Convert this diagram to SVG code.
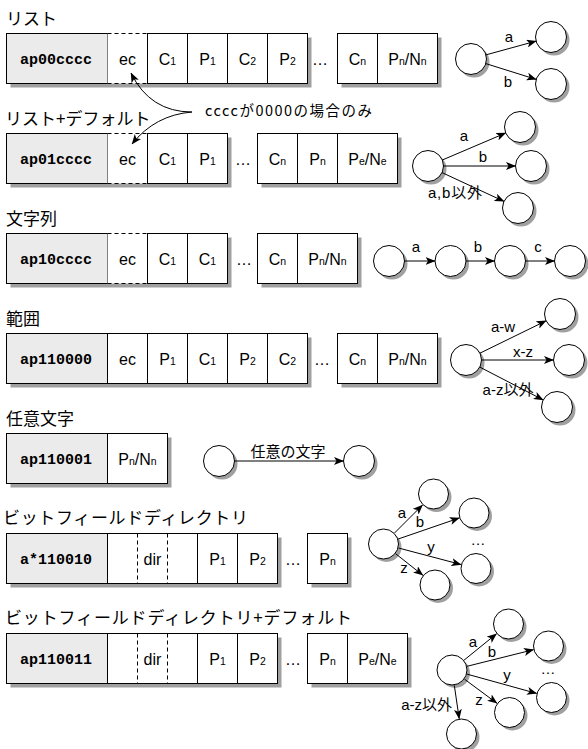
<svg xmlns="http://www.w3.org/2000/svg" width="588" height="749" viewBox="0 0 588 749">
  <style>
    .t { font-family: "Noto Sans CJK JP", sans-serif; font-size: 17px; fill: #000; }
    .m { font-family: "Liberation Mono", "Courier New", monospace; font-weight: bold; font-size: 15px; text-anchor: middle; }
    .c { font-family: "Liberation Sans", Arial, sans-serif; font-size: 16px; text-anchor: middle; }
    .s { font-size: 10.5px; }
    .l { font-family: "Liberation Sans", "Noto Sans CJK JP", sans-serif; font-size: 15px; }
    .mid { text-anchor: middle; }
    .box { fill: #fff; stroke: #000; stroke-width: 1; }
    .hd { fill: #ebebeb; stroke: #000; stroke-width: 1; }
    .sh { fill: #a0a0a0; }
    .wt { fill: #fff; }
    .dash { stroke: #000; stroke-width: 1; stroke-dasharray: 4 3; fill: none; }
    .nd { fill: #fff; stroke: #000; stroke-width: 1; }
    .edge { stroke: #000; stroke-width: 1; fill: none; marker-end: url(#ah); }
  </style>
  <defs>
    <marker id="ah" viewBox="0 0 10 8" refX="9.5" refY="4" markerWidth="10" markerHeight="8" markerUnits="userSpaceOnUse" orient="auto">
      <path d="M0,0 L10,4 L0,8 L2.5,4 Z" fill="#000"/>
    </marker>
  </defs>

  <!-- section titles -->
  <g id="titles">
    <text class="t" x="6" y="25">リスト</text>
    <text class="t" x="5" y="125">リスト+デフォルト</text>
    <text class="t" x="6" y="225">文字列</text>
    <text class="t" x="6" y="325">範囲</text>
    <text class="t" x="6" y="425">任意文字</text>
    <text class="t" x="3" y="524" textLength="245" lengthAdjust="spacing">ビットフィールドディレクトリ</text>
    <text class="t" x="5" y="624" textLength="347" lengthAdjust="spacing">ビットフィールドディレクトリ+デフォルト</text>
  </g>

  <!-- row 1: list -->
  <g id="row-list">
    <rect class="sh" x="10.5" y="37.5" width="301" height="50"/>
    <rect class="sh" x="341.5" y="37.5" width="100" height="50"/>
    <rect class="hd" x="6.5" y="33.5" width="101" height="50"/>
    <rect class="wt" x="107.5" y="33.5" width="40" height="50"/>
    <path class="dash" d="M107.5,33.5 H147.5 M107.5,83.5 H147.5"/>
    <rect class="box" x="147.5" y="33.5" width="40" height="50"/>
    <rect class="box" x="187.5" y="33.5" width="40" height="50"/>
    <rect class="box" x="227.5" y="33.5" width="40" height="50"/>
    <rect class="box" x="267.5" y="33.5" width="40" height="50"/>
    <rect class="box" x="337.5" y="33.5" width="40" height="50"/>
    <rect class="box" x="377.5" y="33.5" width="60" height="50"/>
    <text class="m" x="56" y="63.5">ap00cccc</text>
    <text class="c" x="127.5" y="65">ec</text>
    <text class="c" x="167.5" y="65">C<tspan class="s">1</tspan></text>
    <text class="c" x="207.5" y="65">P<tspan class="s">1</tspan></text>
    <text class="c" x="247.5" y="65">C<tspan class="s">2</tspan></text>
    <text class="c" x="287.5" y="65">P<tspan class="s">2</tspan></text>
    <text class="c" x="320" y="65">…</text>
    <text class="c" x="357.5" y="65">C<tspan class="s">n</tspan></text>
    <text class="c" x="407.5" y="65">P<tspan class="s">n</tspan>/N<tspan class="s">n</tspan></text>
  </g>

  <!-- row 2: list + default -->
  <g id="row-list-default">
    <rect class="sh" x="10.5" y="137.5" width="221" height="50"/>
    <rect class="sh" x="261.5" y="137.5" width="140" height="50"/>
    <rect class="hd" x="6.5" y="133.5" width="101" height="50"/>
    <rect class="wt" x="107.5" y="133.5" width="40" height="50"/>
    <path class="dash" d="M107.5,133.5 H147.5 M107.5,183.5 H147.5"/>
    <rect class="box" x="147.5" y="133.5" width="40" height="50"/>
    <rect class="box" x="187.5" y="133.5" width="40" height="50"/>
    <rect class="box" x="257.5" y="133.5" width="40" height="50"/>
    <rect class="box" x="297.5" y="133.5" width="40" height="50"/>
    <rect class="box" x="337.5" y="133.5" width="60" height="50"/>
    <text class="m" x="56" y="163.5">ap01cccc</text>
    <text class="c" x="127.5" y="165">ec</text>
    <text class="c" x="167.5" y="165">C<tspan class="s">1</tspan></text>
    <text class="c" x="207.5" y="165">P<tspan class="s">1</tspan></text>
    <text class="c" x="243" y="165">…</text>
    <text class="c" x="277.5" y="165">C<tspan class="s">n</tspan></text>
    <text class="c" x="317.5" y="165">P<tspan class="s">n</tspan></text>
    <text class="c" x="367.5" y="165">P<tspan class="s">e</tspan>/N<tspan class="s">e</tspan></text>
  </g>

  <!-- row 3: string -->
  <g id="row-string">
    <rect class="sh" x="10.5" y="237.5" width="221" height="50"/>
    <rect class="sh" x="261.5" y="237.5" width="100" height="50"/>
    <rect class="hd" x="6.5" y="233.5" width="101" height="50"/>
    <rect class="wt" x="107.5" y="233.5" width="40" height="50"/>
    <path class="dash" d="M107.5,233.5 H147.5 M107.5,283.5 H147.5"/>
    <rect class="box" x="147.5" y="233.5" width="40" height="50"/>
    <rect class="box" x="187.5" y="233.5" width="40" height="50"/>
    <rect class="box" x="257.5" y="233.5" width="40" height="50"/>
    <rect class="box" x="297.5" y="233.5" width="60" height="50"/>
    <text class="m" x="56" y="263.5">ap10cccc</text>
    <text class="c" x="127.5" y="265">ec</text>
    <text class="c" x="167.5" y="265">C<tspan class="s">1</tspan></text>
    <text class="c" x="207.5" y="265">C<tspan class="s">1</tspan></text>
    <text class="c" x="244" y="265">…</text>
    <text class="c" x="277.5" y="265">C<tspan class="s">n</tspan></text>
    <text class="c" x="327.5" y="265">P<tspan class="s">n</tspan>/N<tspan class="s">n</tspan></text>
  </g>

  <!-- row 4: range -->
  <g id="row-range">
    <rect class="sh" x="10.5" y="337.5" width="301" height="50"/>
    <rect class="sh" x="341.5" y="337.5" width="100" height="50"/>
    <rect class="hd" x="6.5" y="333.5" width="101" height="50"/>
    <rect class="box" x="107.5" y="333.5" width="40" height="50"/>
    <rect class="box" x="147.5" y="333.5" width="40" height="50"/>
    <rect class="box" x="187.5" y="333.5" width="40" height="50"/>
    <rect class="box" x="227.5" y="333.5" width="40" height="50"/>
    <rect class="box" x="267.5" y="333.5" width="40" height="50"/>
    <rect class="box" x="337.5" y="333.5" width="40" height="50"/>
    <rect class="box" x="377.5" y="333.5" width="60" height="50"/>
    <text class="m" x="56" y="363.5">ap110000</text>
    <text class="c" x="127.5" y="365">ec</text>
    <text class="c" x="167.5" y="365">P<tspan class="s">1</tspan></text>
    <text class="c" x="207.5" y="365">C<tspan class="s">1</tspan></text>
    <text class="c" x="247.5" y="365">P<tspan class="s">2</tspan></text>
    <text class="c" x="287.5" y="365">C<tspan class="s">2</tspan></text>
    <text class="c" x="322" y="365">…</text>
    <text class="c" x="357.5" y="365">C<tspan class="s">n</tspan></text>
    <text class="c" x="407.5" y="365">P<tspan class="s">n</tspan>/N<tspan class="s">n</tspan></text>
  </g>

  <!-- row 5: any character -->
  <g id="row-any">
    <rect class="sh" x="10.5" y="437.5" width="161" height="50"/>
    <rect class="hd" x="6.5" y="433.5" width="101" height="50"/>
    <rect class="box" x="107.5" y="433.5" width="60" height="50"/>
    <text class="m" x="56" y="463.5">ap110001</text>
    <text class="c" x="137.5" y="465">P<tspan class="s">n</tspan>/N<tspan class="s">n</tspan></text>
  </g>

  <!-- row 6: bit-field directory -->
  <g id="row-bitfield">
    <rect class="sh" x="10.5" y="537.5" width="271" height="50"/>
    <rect class="sh" x="311.5" y="537.5" width="40" height="50"/>
    <rect class="hd" x="6.5" y="533.5" width="101" height="50"/>
    <rect class="box" x="107.5" y="533.5" width="90" height="50"/>
    <path class="dash" d="M137.5,533.5 V583.5 M167.5,533.5 V583.5"/>
    <rect class="box" x="197.5" y="533.5" width="40" height="50"/>
    <rect class="box" x="237.5" y="533.5" width="40" height="50"/>
    <rect class="box" x="307.5" y="533.5" width="40" height="50"/>
    <text class="m" x="56" y="563.5">a*110010</text>
    <text class="c" x="152.5" y="565">dir</text>
    <text class="c" x="217.5" y="565">P<tspan class="s">1</tspan></text>
    <text class="c" x="257.5" y="565">P<tspan class="s">2</tspan></text>
    <text class="c" x="293" y="565">…</text>
    <text class="c" x="327.5" y="565">P<tspan class="s">n</tspan></text>
  </g>

  <!-- row 7: bit-field directory + default -->
  <g id="row-bitfield-default">
    <rect class="sh" x="10.5" y="637.5" width="271" height="50"/>
    <rect class="sh" x="311.5" y="637.5" width="100" height="50"/>
    <rect class="hd" x="6.5" y="633.5" width="101" height="50"/>
    <rect class="box" x="107.5" y="633.5" width="90" height="50"/>
    <path class="dash" d="M137.5,633.5 V683.5 M167.5,633.5 V683.5"/>
    <rect class="box" x="197.5" y="633.5" width="40" height="50"/>
    <rect class="box" x="237.5" y="633.5" width="40" height="50"/>
    <rect class="box" x="307.5" y="633.5" width="40" height="50"/>
    <rect class="box" x="347.5" y="633.5" width="60" height="50"/>
    <text class="m" x="56" y="663.5">ap110011</text>
    <text class="c" x="152.5" y="665">dir</text>
    <text class="c" x="217.5" y="665">P<tspan class="s">1</tspan></text>
    <text class="c" x="257.5" y="665">P<tspan class="s">2</tspan></text>
    <text class="c" x="293" y="665">…</text>
    <text class="c" x="327.5" y="665">P<tspan class="s">n</tspan></text>
    <text class="c" x="377.5" y="665">P<tspan class="s">e</tspan>/N<tspan class="s">e</tspan></text>
  </g>

  <!-- note on the escape-character cells -->
  <g id="note-ec">
    <text class="t" x="205" y="116" style="font-size:14.5px" textLength="167" lengthAdjust="spacing">ccccが0000の場合のみ</text>
  </g>

  <!-- state graph nodes -->
  <g id="g1-s0"><circle class="sh" cx="474" cy="62" r="15.5"/><circle class="nd" cx="471" cy="59" r="15.5"/></g>
  <g id="g1-sa"><circle class="sh" cx="554" cy="40" r="15.5"/><circle class="nd" cx="551" cy="37" r="15.5"/></g>
  <g id="g1-sb"><circle class="sh" cx="554" cy="87" r="15.5"/><circle class="nd" cx="551" cy="84" r="15.5"/></g>

  <g id="g2-s0"><circle class="sh" cx="431" cy="169" r="15.5"/><circle class="nd" cx="428" cy="166" r="15.5"/></g>
  <g id="g2-sa"><circle class="sh" cx="523" cy="130" r="15.5"/><circle class="nd" cx="520" cy="127" r="15.5"/></g>
  <g id="g2-sb"><circle class="sh" cx="534" cy="169" r="15.5"/><circle class="nd" cx="531" cy="166" r="15.5"/></g>
  <g id="g2-sd"><circle class="sh" cx="521" cy="211" r="15.5"/><circle class="nd" cx="518" cy="208" r="15.5"/></g>

  <g id="g3-s0"><circle class="sh" cx="392" cy="264" r="15.5"/><circle class="nd" cx="389" cy="261" r="15.5"/></g>
  <g id="g3-s1"><circle class="sh" cx="453.5" cy="264" r="15.5"/><circle class="nd" cx="450.5" cy="261" r="15.5"/></g>
  <g id="g3-s2"><circle class="sh" cx="513" cy="264" r="15.5"/><circle class="nd" cx="510" cy="261" r="15.5"/></g>
  <g id="g3-s3"><circle class="sh" cx="573" cy="264" r="15.5"/><circle class="nd" cx="570" cy="261" r="15.5"/></g>

  <g id="g4-s0"><circle class="sh" cx="469" cy="363" r="15.5"/><circle class="nd" cx="466" cy="360" r="15.5"/></g>
  <g id="g4-sa"><circle class="sh" cx="563" cy="317" r="15.5"/><circle class="nd" cx="560" cy="314" r="15.5"/></g>
  <g id="g4-sb"><circle class="sh" cx="572" cy="363" r="15.5"/><circle class="nd" cx="569" cy="360" r="15.5"/></g>
  <g id="g4-sd"><circle class="sh" cx="560" cy="410" r="15.5"/><circle class="nd" cx="557" cy="407" r="15.5"/></g>

  <g id="g5-s0"><circle class="sh" cx="222" cy="464" r="15.5"/><circle class="nd" cx="219" cy="461" r="15.5"/></g>
  <g id="g5-s1"><circle class="sh" cx="362" cy="464" r="15.5"/><circle class="nd" cx="359" cy="461" r="15.5"/></g>

  <g id="g6-s0"><circle class="sh" cx="386.5" cy="547" r="15"/><circle class="nd" cx="383.5" cy="544" r="15"/></g>
  <g id="g6-sa"><circle class="sh" cx="436.5" cy="497" r="15"/><circle class="nd" cx="433.5" cy="494" r="15"/></g>
  <g id="g6-sb"><circle class="sh" cx="477" cy="516" r="15"/><circle class="nd" cx="474" cy="513" r="15"/></g>
  <g id="g6-sy"><circle class="sh" cx="479" cy="571.5" r="15"/><circle class="nd" cx="476" cy="568.5" r="15"/></g>
  <g id="g6-sz"><circle class="sh" cx="438" cy="588" r="15"/><circle class="nd" cx="435" cy="585" r="15"/></g>

  <g id="g7-s0"><circle class="sh" cx="455" cy="673" r="15"/><circle class="nd" cx="452" cy="670" r="15"/></g>
  <g id="g7-sa"><circle class="sh" cx="511.5" cy="627" r="15"/><circle class="nd" cx="508.5" cy="624" r="15"/></g>
  <g id="g7-sb"><circle class="sh" cx="551.5" cy="649" r="15"/><circle class="nd" cx="548.5" cy="646" r="15"/></g>
  <g id="g7-sy"><circle class="sh" cx="554.5" cy="700.5" r="15"/><circle class="nd" cx="551.5" cy="697.5" r="15"/></g>
  <g id="g7-sz"><circle class="sh" cx="512.5" cy="715.5" r="15"/><circle class="nd" cx="509.5" cy="712.5" r="15"/></g>
  <g id="g7-sd"><circle class="sh" cx="464.5" cy="737" r="15"/><circle class="nd" cx="461.5" cy="734" r="15"/></g>

  <!-- connectors -->
  <g id="connectors">
    <path class="edge" d="M192,112 Q150,112 131,73"/>
    <path class="edge" d="M192,112 Q155,115 132,144"/>

    <path class="edge" d="M485.9,54.9 L536.1,41.1"/>
    <path class="edge" d="M485.8,63.6 L536.2,79.4"/>

    <path class="edge" d="M442.3,160 L505.7,133"/>
    <path class="edge" d="M443.5,166 L515.5,166"/>
    <path class="edge" d="M442,172.6 L504,201.4"/>

    <path class="edge" d="M404.5,261 L435,261"/>
    <path class="edge" d="M466,261 L494.5,261"/>
    <path class="edge" d="M525.5,261 L554.5,261"/>

    <path class="edge" d="M479.9,353.2 L546.1,320.8"/>
    <path class="edge" d="M481.5,360 L553.5,360"/>
    <path class="edge" d="M479.8,367.1 L543.2,399.9"/>

    <path class="edge" d="M234.5,461 L343.5,461"/>

    <path class="edge" d="M394.5,533 L422.5,505"/>
    <path class="edge" d="M398.2,539 L459.3,518"/>
    <path class="edge" d="M398.5,548 L461,564.5"/>
    <path class="edge" d="M395.6,553.7 L422.9,575.3"/>

    <path class="edge" d="M464,660.2 L496.5,633.8"/>
    <path class="edge" d="M467,666.3 L533.5,649.7"/>
    <path class="edge" d="M466.9,674.1 L536.6,693.4"/>
    <path class="edge" d="M464.5,679.2 L497,703.3"/>
    <path class="edge" d="M454.3,685.3 L459.2,718.7"/>
  </g>

  <!-- edge labels -->
  <g id="edge-labels">
    <text class="l mid" x="509" y="42">a</text>
    <text class="l mid" x="508" y="87">b</text>

    <text class="l mid" x="464" y="141">a</text>
    <text class="l mid" x="483" y="162">b</text>
    <text class="l" x="428" y="198" textLength="54" lengthAdjust="spacing">a,b以外</text>

    <text class="l mid" x="416" y="252">a</text>
    <text class="l mid" x="478" y="252">b</text>
    <text class="l mid" x="538" y="252">c</text>

    <text class="l mid" x="503" y="332">a-w</text>
    <text class="l mid" x="523" y="357">x-z</text>
    <text class="l mid" x="508" y="395">a-z以外</text>

    <text class="l mid" x="288" y="457">任意の文字</text>

    <text class="l mid" x="402" y="518">a</text>
    <text class="l mid" x="420" y="527">b</text>
    <text class="l mid" x="431" y="552">y</text>
    <text class="l mid" x="404" y="573">z</text>
    <text class="l mid" x="478" y="545">…</text>

    <text class="l mid" x="473" y="647">a</text>
    <text class="l mid" x="492" y="657">b</text>
    <text class="l mid" x="507" y="680">y</text>
    <text class="l mid" x="479" y="705">z</text>
    <text class="l mid" x="548" y="674">…</text>
    <text class="l" x="452" y="710" text-anchor="end">a-z以外</text>
  </g>
</svg>
